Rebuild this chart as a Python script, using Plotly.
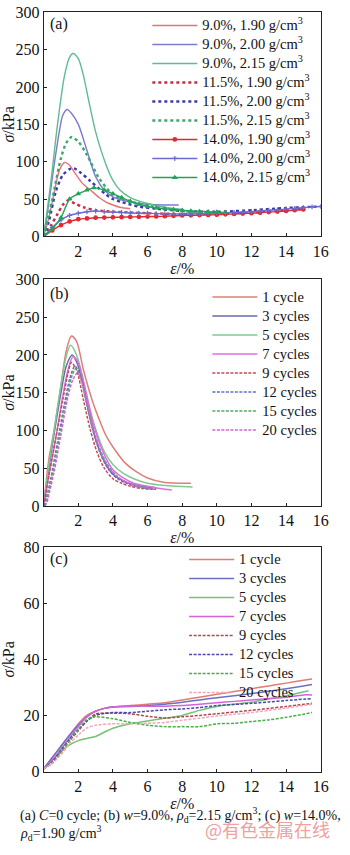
import plotly.graph_objects as go

# ---------------- Panel (a) data ----------------
a_names = ["9.0%, 1.90 g/cm<sup>3</sup>", "9.0%, 2.00 g/cm<sup>3</sup>", "9.0%, 2.15 g/cm<sup>3</sup>",
           "11.5%, 1.90 g/cm<sup>3</sup>", "11.5%, 2.00 g/cm<sup>3</sup>", "11.5%, 2.15 g/cm<sup>3</sup>",
           "14.0%, 1.90 g/cm<sup>3</sup>", "14.0%, 2.00 g/cm<sup>3</sup>", "14.0%, 2.15 g/cm<sup>3</sup>"]

a1_x = [0, 0.3, 0.6, 0.9, 1.2, 1.5, 1.8, 2.2, 2.7, 3.2, 3.6, 4.0, 4.4, 5.0]
a1_y = [0, 25, 58, 88, 99, 95, 85, 72, 62, 52, 46, 42, 39, 37]
a2_x = [0, 0.3, 0.6, 0.9, 1.1, 1.35, 1.6, 2.0, 2.5, 3.0, 3.5, 4.0, 5.0, 6.0, 7.0, 7.8]
a2_y = [0, 45, 95, 140, 162, 170, 165, 150, 115, 80, 62, 53, 46, 43, 42, 42]
a3_x = [0, 0.4, 0.8, 1.2, 1.5, 1.7, 2.0, 2.3, 2.6, 3.0, 3.6, 4.0, 4.4, 5.0, 6.0, 7.0, 8.0]
a3_y = [0, 70, 150, 215, 240, 245, 238, 215, 182, 140, 96, 75, 62, 52, 44, 39, 36]
a4_x = [0, 0.4, 0.8, 1.1, 1.4, 1.8, 2.3, 3.0, 4, 5, 6, 8, 10, 12, 14, 15]
a4_y = [0, 14, 30, 42, 48, 44, 39, 35, 33, 32, 31, 30, 30, 32, 35, 37]
a5_x = [0, 0.3, 0.7, 1.1, 1.5, 1.75, 2.1, 2.7, 3.2, 3.6, 4.0, 4.5, 5.5, 6.5, 8, 10, 12, 14, 16]
a5_y = [0, 20, 60, 82, 90, 91, 86, 74, 64, 56, 50, 46, 40, 37, 34, 33, 35, 38, 40]
a6_x = [0, 0.5, 1.0, 1.3, 1.6, 2.0, 2.5, 3.2, 4.0, 4.5, 5.0, 6.0, 7.0, 8.0, 9.0, 10.0]
a6_y = [0, 50, 105, 125, 133, 127, 109, 78, 56, 51, 47, 41, 37, 34, 32, 31]
a7_x = [0, 0.5, 1, 1.5, 2, 2.5, 3, 3.5, 4, 4.5, 5, 5.5, 6, 6.5, 7, 7.5, 8, 8.5, 9, 9.5, 10,
        10.5, 11, 11.5, 12, 12.5, 13, 13.5, 14, 14.5, 15]
a7_y = [0, 8, 15, 20, 23, 24, 25, 25.2, 25.5, 25.7, 26, 26.2, 26.5, 26.7, 27, 27.5, 28, 28.2, 28.5, 28.7, 29,
        29.5, 30, 30.5, 31, 31.7, 32.5, 33.2, 34, 35, 36]
a8_x = [0, 0.5, 1, 1.5, 2, 2.5, 3, 3.5, 4, 4.5, 5, 5.5, 6, 6.5, 7, 7.5, 8, 8.5, 9, 9.5, 10,
        10.5, 11, 11.5, 12, 12.5, 13, 13.5, 14, 14.5, 15, 15.5, 16]
a8_y = [0, 12, 22, 28, 31, 33, 34, 33, 32.5, 32, 31.5, 31, 31, 30.5, 30.5, 30, 30, 30, 30.2, 30.5, 31,
        31.5, 32, 32.5, 33, 34, 35, 35.5, 36.5, 37.5, 38.5, 39.5, 40]
a9_x = [0, 0.5, 1, 1.5, 2, 2.5, 2.9, 3.5, 4, 4.5, 5, 5.5, 6, 6.5, 7, 7.5, 8, 8.5, 9, 9.5, 10, 10.5]
a9_y = [0, 10, 25, 50, 57, 62, 65, 62, 57, 52, 47, 43, 40, 38, 37, 36, 35, 34, 33.5, 33, 32.5, 32]

# ---------------- Panel (b) data ----------------
cyc_names = ["1 cycle", "3 cycles", "5 cycles", "7 cycles", "9 cycles", "12 cycles", "15 cycles", "20 cycles"]

b1_x = [0, 0.3, 0.6, 1.0, 1.3, 1.6, 1.9, 2.3, 2.8, 3.2, 3.6, 4.0, 4.7, 5.3, 6.0, 7.0, 8.5]
b1_y = [0, 62, 100, 160, 205, 225, 218, 180, 140, 115, 93, 78, 57, 46, 37, 31, 30]
b3_x = [0, 0.3, 0.6, 1.0, 1.3, 1.65, 2.0, 2.4, 2.8, 3.2, 3.6, 4.0, 4.6, 5.2, 6.0, 6.5]
b3_y = [0, 50, 95, 150, 185, 200, 185, 145, 105, 75, 55, 42, 33, 28, 25, 24]
b5_x = [0, 0.3, 0.6, 1.0, 1.3, 1.55, 1.9, 2.3, 2.7, 3.1, 3.5, 4.0, 4.6, 5.2, 6, 7, 8.6]
b5_y = [0, 55, 100, 160, 198, 213, 200, 165, 125, 95, 72, 55, 43, 36, 30, 27, 25]
b7_x = [0, 0.3, 0.7, 1.1, 1.4, 1.7, 2.0, 2.4, 2.8, 3.2, 3.6, 4.0, 4.6, 5.2, 6, 7, 7.4]
b7_y = [0, 40, 90, 145, 180, 198, 190, 155, 115, 85, 63, 48, 37, 30, 26, 22, 21]
b9_x = [0, 0.3, 0.7, 1.1, 1.4, 1.6, 1.9, 2.3, 2.7, 3.1, 3.5, 4.0, 4.5, 5.0, 5.7, 6.5]
b9_y = [0, 40, 90, 140, 175, 190, 180, 140, 100, 70, 50, 36, 30, 26, 23, 22]
b12_x = [0.05, 0.4, 0.8, 1.2, 1.5, 1.8, 2.1, 2.5, 2.9, 3.3, 3.7, 4.2, 4.8, 5.5, 6.3]
b12_y = [0, 35, 85, 135, 168, 185, 175, 135, 95, 68, 50, 37, 30, 25, 22]
b15_x = [0.1, 0.5, 0.9, 1.3, 1.6, 1.85, 2.1, 2.5, 2.9, 3.3, 3.7, 4.2, 4.8, 5.5, 6.3]
b15_y = [0, 40, 90, 140, 170, 182, 172, 135, 98, 72, 54, 40, 31, 26, 23]
b20_x = [0.2, 0.6, 1.0, 1.4, 1.7, 1.95, 2.2, 2.6, 3.0, 3.4, 3.8, 4.3, 4.9, 5.6, 6.4]
b20_y = [5, 45, 95, 145, 168, 176, 165, 128, 92, 66, 50, 38, 30, 25, 22]

# ---------------- Panel (c) data ----------------
c1_x = [0, 0.5, 1, 1.5, 2, 2.5, 3, 3.5, 4, 5, 6, 7, 8, 9, 10, 11, 12, 13, 14, 15, 15.5]
c1_y = [1, 5, 9, 13, 17, 20, 21.5, 22.5, 23, 23.5, 24, 24.5, 25.5, 26.5, 27.5, 28.5, 29.5, 30.5, 31.5, 32.5, 33]
c3_x = [0, 0.5, 1, 1.5, 2, 2.5, 3, 3.5, 4, 5, 6, 7, 8, 9, 10, 11, 12, 13, 14, 15, 15.5]
c3_y = [1, 5, 9, 13, 16.5, 19.5, 21.5, 22.5, 23, 23.2, 23.5, 24, 24.7, 25.5, 26.3, 27, 27.8, 28.6, 29.5, 30.5, 31]
c5_x = [0, 0.5, 1, 1.5, 2, 2.5, 3, 3.5, 4, 5, 6, 7, 8, 9, 10, 11, 12, 13, 14, 15.3]
c5_y = [1, 4, 7, 9.5, 11, 11.8, 12.5, 14, 15.4, 17, 18, 19, 20, 21.8, 23.2, 24, 24.7, 25.8, 27, 28.8]
c7_x = [0, 0.5, 1, 1.5, 2, 2.5, 3, 3.5, 4, 5, 6, 7, 8, 9, 10, 11, 12, 13, 14, 15, 15.5]
c7_y = [1, 4, 8, 12, 16, 19.5, 21.5, 22.5, 23, 23.3, 23.3, 23.3, 23.5, 24, 24.5, 25, 25.5, 26, 26.5, 27.3, 27.3]
c9_x = [0, 0.5, 1, 1.5, 2, 2.5, 3, 4, 5, 6, 7, 8, 9, 10, 11, 12, 13, 14, 15.5]
c9_y = [1, 3, 7, 11, 14.5, 18, 20.5, 20.8, 20.6, 19.7, 19.1, 19.5, 20, 20.6, 21.2, 21.8, 22.5, 23.2, 24.3]
c12_x = [0, 0.5, 1, 1.5, 2, 2.5, 3, 4, 5, 6, 7, 8, 9, 10, 11, 12, 13, 14, 15.5]
c12_y = [1, 3.5, 7.5, 11.5, 15, 18, 20, 21, 21, 21.5, 22, 22.3, 22.8, 23.5, 23.9, 24.3, 24.8, 25.3, 26]
c15_x = [0, 0.5, 1, 1.5, 2, 2.5, 3, 4, 5, 6, 7, 8, 9, 10, 11, 12, 13, 14, 15.5]
c15_y = [1, 3, 7, 11, 15, 18.5, 19.5, 18.8, 17.5, 16.5, 16, 16, 16, 17, 17.2, 17.8, 18.4, 19.3, 21]
c20_x = [0, 0.5, 1, 1.5, 2, 2.5, 3, 4, 5, 6, 7, 8, 9, 10, 11, 12, 13, 14, 15.5]
c20_y = [1, 3, 6, 10, 13, 15.5, 16.5, 17, 17, 17.2, 17.5, 18.3, 19, 19.8, 20.4, 21, 21.8, 22.6, 24]

# ---------------- ticks ----------------
x_ticks = [2, 4, 6, 8, 10, 12, 14, 16]
ya_ticks = [0, 50, 100, 150, 200, 250, 300]
yc_ticks = [0, 20, 40, 60, 80]

FONT = "Liberation Serif"

def big(s):
    return '<span style="font-size:14.5px">' + s + '</span>'

fig = go.Figure()

# ---- panel (a) traces ----
a_data = [(a1_x, a1_y), (a2_x, a2_y), (a3_x, a3_y), (a4_x, a4_y), (a5_x, a5_y),
          (a6_x, a6_y), (a7_x, a7_y), (a8_x, a8_y), (a9_x, a9_y)]
a_colors = ["#e2747a", "#7b7bd2", "#5cbc92", "#cc2a40", "#3a3aa8", "#3aa86c", "#e02a30", "#6a6ad0", "#22a458"]
a_dash = ["solid", "solid", "solid", "dot", "dot", "dot", "solid", "solid", "solid"]
a_width = [1.4, 1.4, 1.4, 2.4, 2.4, 2.4, 1.4, 1.4, 1.4]
a_sym = [None, None, None, None, None, None, "circle", "cross-thin", "triangle-up"]
for i, (xs, ys) in enumerate(a_data):
    mode = "lines+markers" if a_sym[i] else "lines"
    kw = {}
    if a_sym[i]:
        kw["marker"] = dict(symbol=a_sym[i], size=3.5, color=a_colors[i],
                            line=dict(color=a_colors[i], width=1.2))
    fig.add_trace(go.Scatter(x=xs, y=ys, name=big(a_names[i]), mode=mode,
                             line=dict(color=a_colors[i], dash=a_dash[i], width=a_width[i], shape="spline", smoothing=0.8),
                             xaxis="x", yaxis="y", legend="legend", **kw))

# ---- panel (b) traces ----
b_data = [(b1_x, b1_y), (b3_x, b3_y), (b5_x, b5_y), (b7_x, b7_y),
          (b9_x, b9_y), (b12_x, b12_y), (b15_x, b15_y), (b20_x, b20_y)]
b_colors = ["#dc8078", "#6a6aaa", "#82c892", "#de6ee0", "#c24a58", "#5e70c2", "#52a866", "#d262d6"]
cyc_dash = ["solid", "solid", "solid", "solid", "3px,1.5px", "3px,1.5px", "3px,1.5px", "3px,1.5px"]
for i, (xs, ys) in enumerate(b_data):
    fig.add_trace(go.Scatter(x=xs, y=ys, name=big(cyc_names[i]), mode="lines",
                             line=dict(color=b_colors[i], dash=cyc_dash[i], width=1.5, shape="spline", smoothing=0.8),
                             xaxis="x2", yaxis="y2", legend="legend2"))

# ---- panel (c) traces ----
c_data = [(c1_x, c1_y), (c3_x, c3_y), (c5_x, c5_y), (c7_x, c7_y),
          (c9_x, c9_y), (c12_x, c12_y), (c15_x, c15_y), (c20_x, c20_y)]
c_colors = ["#e07c70", "#6a70c4", "#74c274", "#d462dc", "#b44454", "#4848aa", "#44b044", "#f2a6b6"]
for i, (xs, ys) in enumerate(c_data):
    fig.add_trace(go.Scatter(x=xs, y=ys, name=big(cyc_names[i]), mode="lines",
                             line=dict(color=c_colors[i], dash=cyc_dash[i], width=1.5, shape="spline", smoothing=0.8),
                             xaxis="x3", yaxis="y3", legend="legend3"))

W, H = 350, 855
def px(x):
    return x / W
def py(y):
    return 1 - y / H

xdom = [px(42), px(328)]
common_x = dict(range=[0, 16], tickvals=x_ticks, showline=True, linecolor="#222", linewidth=1,
                mirror=True, ticks="inside", ticklen=3, tickcolor="#222", showgrid=False, zeroline=False,
                tickfont=dict(family=FONT, size=16, color="#111"),
                title=dict(text="<i>ε</i>/%", font=dict(family=FONT, size=16, color="#111"), standoff=0),
                domain=xdom)
common_y = dict(showline=True, linecolor="#222", linewidth=1, mirror=True, ticks="inside", ticklen=3,
                tickcolor="#222", showgrid=False, zeroline=False,
                tickfont=dict(family=FONT, size=16, color="#111"),
                title=dict(text="<i>σ</i>/kPa", font=dict(family=FONT, size=16, color="#111"), standoff=4))

leg_common = dict(font=dict(family=FONT, size=12, color="#111"), bgcolor="rgba(0,0,0,0)",
                  borderwidth=0, xanchor="left", yanchor="top", itemwidth=45, tracegroupgap=0)

fig.update_layout(
    width=W, height=H, margin=dict(l=0, r=0, t=0, b=0),
    paper_bgcolor="white", plot_bgcolor="white",
    showlegend=True,
    xaxis=dict(common_x, anchor="y"),
    yaxis=dict(common_y, range=[0, 300], tickvals=ya_ticks, domain=[py(233), py(4.5)], anchor="x"),
    xaxis2=dict(common_x, anchor="y2"),
    yaxis2=dict(common_y, range=[0, 300], tickvals=ya_ticks, domain=[py(508), py(277)], anchor="x2"),
    xaxis3=dict(common_x, anchor="y3"),
    yaxis3=dict(common_y, range=[0, 80], tickvals=yc_ticks, domain=[py(779), py(550)], anchor="x3"),
    legend=dict(leg_common, x=px(149), y=py(3)),
    legend2=dict(leg_common, x=px(211), y=py(280)),
    legend3=dict(leg_common, x=px(187), y=py(548)),
)

ann_font = dict(family=FONT, size=16, color="#111")
for txt, yy in [("(a)", 16), ("(b)", 292), ("(c)", 562)]:
    fig.add_annotation(text=txt, x=px(46), y=py(yy), xref="paper", yref="paper",
                       xanchor="left", yanchor="middle", showarrow=False, font=ann_font)

cap_font = dict(family=FONT, size=14, color="#111")
fig.add_annotation(text="(a) <i>C</i>=0 cycle; (b) <i>w</i>=9.0%, <i>ρ</i><sub>d</sub>=2.15 g/cm<sup>3</sup>; (c) <i>w</i>=14.0%,",
                   x=px(15), y=py(823), xref="paper", yref="paper", xanchor="left", yanchor="middle",
                   showarrow=False, font=cap_font)
fig.add_annotation(text="<i>ρ</i><sub>d</sub>=1.90 g/cm<sup>3</sup>",
                   x=px(15), y=py(842), xref="paper", yref="paper", xanchor="left", yanchor="middle",
                   showarrow=False, font=cap_font)
fig.add_annotation(text="@有色金属在线", x=px(340), y=py(838), xref="paper", yref="paper",
                   xanchor="right", yanchor="middle", showarrow=False,
                   font=dict(family="Noto Sans CJK SC", size=18, color="#f0a0a0"))

fig.write_html("out.html")
